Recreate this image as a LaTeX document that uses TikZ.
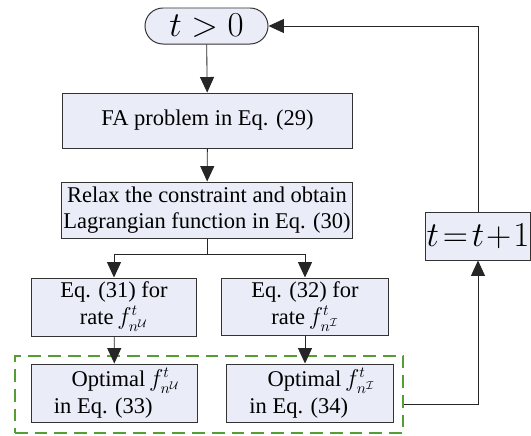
\documentclass[tikz,border=0pt]{standalone}
\usepackage{fontspec}
\setmainfont{Liberation Serif}
\usetikzlibrary{arrows.meta, positioning, calc, fit}
\usepackage{amsmath}
\definecolor{boxfill}{RGB}{234,237,248}
\definecolor{dashgreen}{RGB}{84,158,52}

\begin{document}
\begin{tikzpicture}[
  x=0.025cm, y=-0.025cm,
  font=\fontsize{16}{18}\selectfont,
  blocco/.style={draw=black!80, fill=boxfill, line width=0.7pt, align=center,
                 inner sep=1pt},
  avvio/.style={blocco, rounded corners=0.45cm, font=\fontsize{32}{32}\selectfont},
  gruppo/.style={draw=dashgreen, line width=1.2pt, dash pattern=on 9pt off 5pt},
  fdline/.style={draw=black!85, line width=0.6pt},
  fdar/.style={fdline, -{Triangle[length=11pt,width=10pt]}}
]
\useasboundingbox (0,0) rectangle (531,435);

%--------------------------------------------------------------
% Condizione iniziale e problema FA
%--------------------------------------------------------------
\node[avvio, minimum width=3.075cm, minimum height=0.9cm] (start) at (206.5,26) {$t>0$};
\node[blocco, minimum width=7.225cm, minimum height=1.375cm] (fa) at (207.5,120.5)
  {FA problem in Eq. (29)};
\node[blocco, minimum width=7.25cm, minimum height=1.4cm] (relax) at (207,210)
  {Relax the constraint and obtain\\ Lagrangian function in Eq. (30)};

%--------------------------------------------------------------
% Rami per le due velocita'
%--------------------------------------------------------------
\node[blocco, minimum width=4.1cm, minimum height=1.45cm] (eqU) at (114,307)
  {Eq. (31) for\\[1pt] rate\,$f_{n^{\mathcal{U}}}^{t}$};
\node[blocco, minimum width=4.15cm, minimum height=1.425cm] (eqI) at (305,306.5)
  {Eq. (32) for\\[1pt] rate\,$f_{n^{\mathcal{I}}}^{t}$};
\node[blocco, minimum width=4.125cm, minimum height=1.45cm] (optU) at (114.5,393)
  {\quad Optimal\,$f_{n^{\mathcal{U}}}^{t}$\\[1pt] in Eq. (33)\phantom{xx}};
\node[blocco, minimum width=4.15cm, minimum height=1.45cm] (optI) at (310,393)
  {\quad Optimal\,$f_{n^{\mathcal{I}}}^{t}$\\[1pt] in Eq. (34)\phantom{xx}};

\node[gruppo, fit={(15,356) (403,433)}, inner sep=0pt] (grp) {};

%--------------------------------------------------------------
% Aggiornamento dell'indice
%--------------------------------------------------------------
\node[blocco, minimum width=2.5cm, minimum height=1.2cm,
      font=\fontsize{25}{28}\selectfont] (incr) at (478,236) {$t\!=\!t\!+\!1$};

\coordinate (split) at (207,254);

%--------------------------------------------------------------
% Percorso principale
%--------------------------------------------------------------
\draw[fdar] (start) -- (fa);
\draw[fdar] (fa) -- (relax);
\draw[fdar] (relax.south) |- (eqU.north |- split) -- (eqU.north);
\draw[fdar] (relax.south) |- (eqI.north |- split) -- (eqI.north);
\draw[fdar] (eqU) -- (optU);
\draw[fdar] (eqI.south) -- (eqI.south |- optI.north);

%--------------------------------------------------------------
% Ritorno
%--------------------------------------------------------------
\draw[fdar] ($(grp.east)+(0,9.5)$) -| (incr.south);
\draw[fdar] (incr.north) |- (start.east);

\end{tikzpicture}
\end{document}
